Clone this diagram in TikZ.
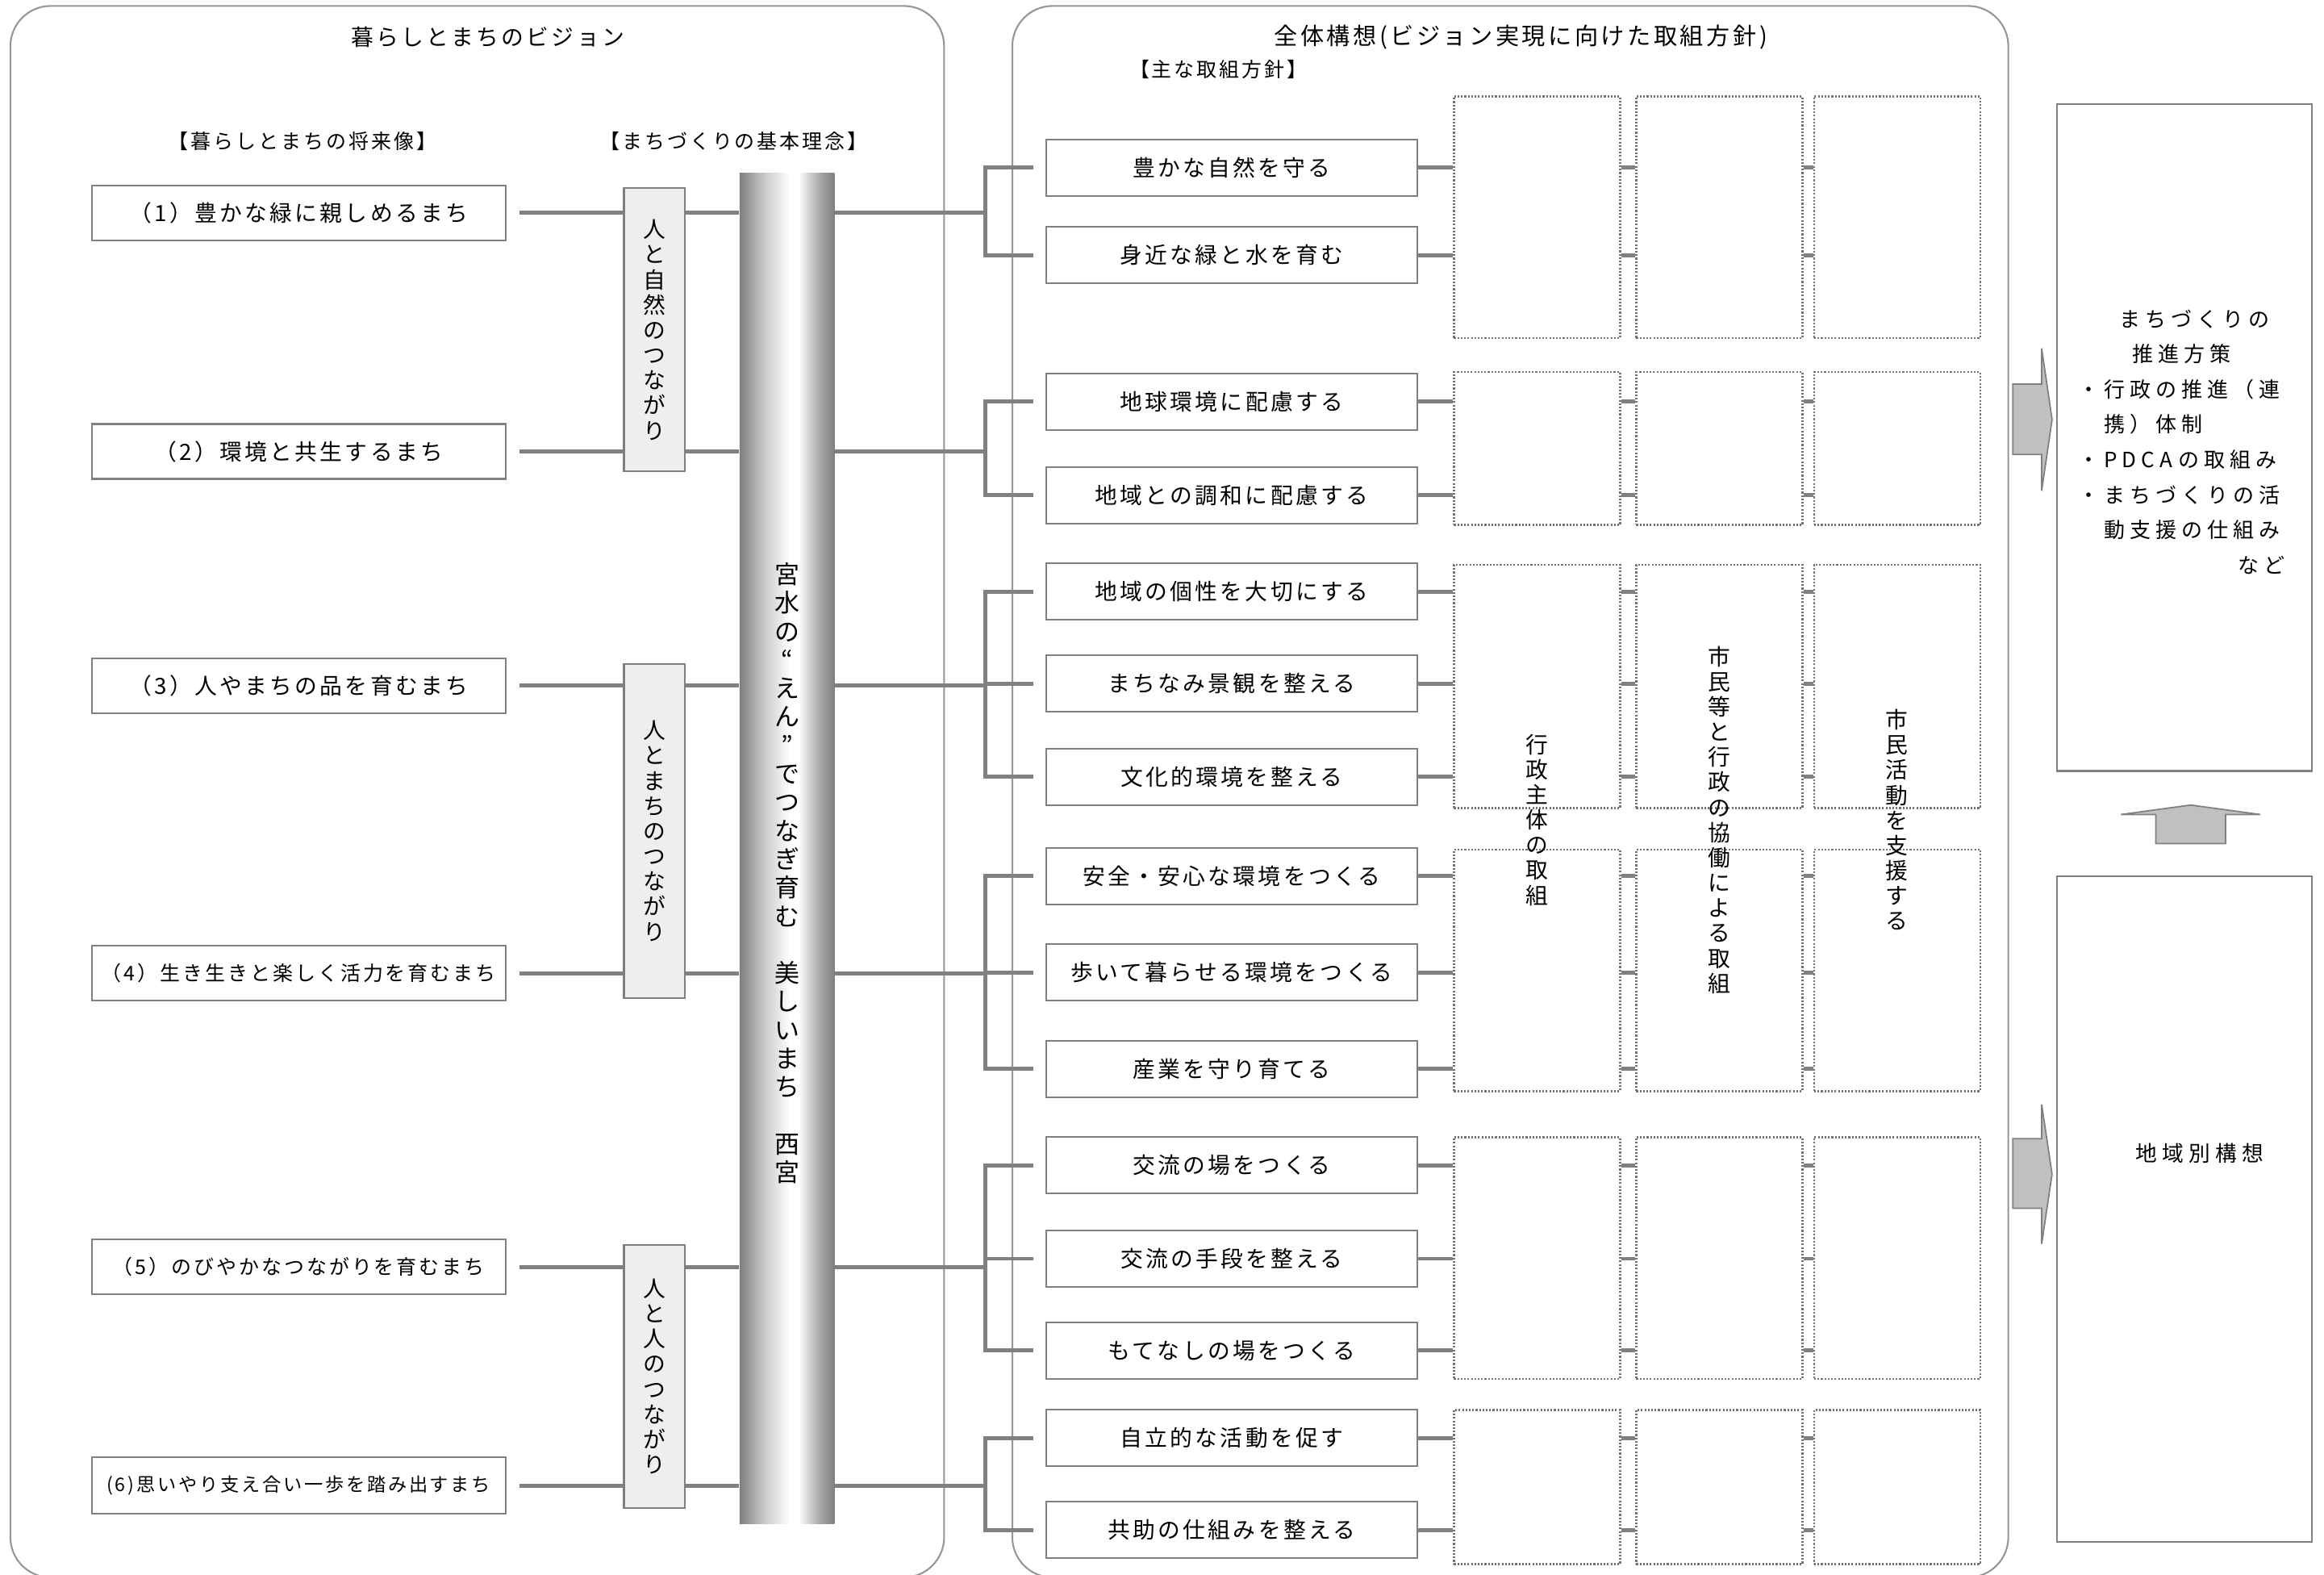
\documentclass[tikz,border=0pt]{standalone}
\usepackage{fontspec}
\setmainfont{Noto Sans CJK JP}
\newfontfamily\jp{Noto Sans CJK JP}
\newfontfamily\jpA[LetterSpace=12]{Noto Sans CJK JP}
\newfontfamily\jpB[LetterSpace=23]{Noto Sans CJK JP}
\usetikzlibrary{fit}
\newcommand\fsz[2]{\fontsize{#1}{#2}\selectfont}
\definecolor{lnc}{RGB}{128,128,128}
\definecolor{bdc}{RGB}{128,128,128}
\definecolor{pnc}{RGB}{150,150,150}
\definecolor{rfc}{RGB}{238,238,238}
\definecolor{arf}{RGB}{192,192,192}
\definecolor{dtc}{RGB}{115,115,115}
\definecolor{pg1}{gray}{0.5}
\definecolor{pg2}{gray}{0.78}
\definecolor{pg3}{gray}{0.66}
\pgfdeclarehorizontalshading{pillarsh}{100bp}{color(0bp)=(pg1); color(25bp)=(pg1); color(37.5bp)=(pg2); color(51.5bp)=(white); color(56bp)=(white); color(67bp)=(pg3); color(75bp)=(pg1); color(100bp)=(pg1)}
\tikzset{
  conn/.style={draw=lnc, line width=1.4pt},
  box/.style={draw=bdc, line width=0.6pt, fill=white},
  dbox/.style={draw=dtc, line width=0.7pt, dash pattern=on 0.6pt off 0.6pt, inner sep=0pt},
  panel/.style={draw=pnc, line width=0.6pt, rounded corners=0.5cm, inner sep=0pt},
  rbox/.style={draw=bdc, fill=rfc, line width=0.6pt, align=center, font=\jp\fsz{7.9pt}{8.87pt}},
  vtxt/.style={inner sep=0pt, align=center, font=\jp\fsz{7.9pt}{8.87pt}},
  barrow/.style={draw=bdc, fill=arf, line width=0.5pt},
  ttl/.style={inner sep=0pt, font=\jpA\fsz{7.9pt}{9pt}},
  sub/.style={inner sep=0pt, font=\jpA\fsz{7.1pt}{9pt}},
  mfont/.style={font=\jpA\fsz{7.9pt}{9pt}}
}
% box by corner coordinates (in picture units): [options]{name}{x1}{y1}{x2}{y2}{text}
\newcommand\bx[7][]{%
  \node[#1, inner sep=0pt, minimum width={(#5-#3)*0.018374cm}, minimum height={(#6-#4)*0.018374cm}] (#2) at ({(#3+#5)/2},{(#4+#6)/2}) {#7};}
\begin{document}
\begin{tikzpicture}[x=0.018374cm, y=-0.018374cm]
\useasboundingbox (0,0) rectangle (1568,1062);

% panels
\node[panel, fit={(7,4) (637,1064)}] (lp) {};
\node[panel, fit={(683,4) (1355,1064)}] (mp) {};

% titles
\node[ttl] (lt) at (329,25) {暮らしとまちのビジョン};
\node[ttl, font=\jpA\fsz{8.3pt}{9pt}] (mt) at (1026,25) {全体構想(ビジョン実現に向けた取組方針)};
\node[sub] (st) at (822,47) {【主な取組方針】};
\node[sub] (h1) at (204,95) {【暮らしとまちの将来像】};
\node[sub] (h2) at (495,95) {【まちづくりの基本理念】};

% vision boxes
\bx[box, mfont]{v1}{62}{125}{341}{162}{（1）豊かな緑に親しめるまち}
\bx[box, mfont]{v2}{62}{286}{341}{323}{（2）環境と共生するまち}
\bx[box, mfont]{v3}{62}{444}{341}{481}{（3）人やまちの品を育むまち}
\bx[box, font=\jpA\fsz{7.1pt}{9pt}]{v4}{62}{638}{341}{675}{（4）生き生きと楽しく活力を育むまち}
\bx[box, font=\jpA\fsz{7.1pt}{9pt}]{v5}{62}{836}{341}{873}{（5）のびやかなつながりを育むまち}
\bx[box, font=\jpA\fsz{6.6pt}{9pt}]{v6}{62}{983}{341}{1021}{(6)思いやり支え合い一歩を踏み出すまち}

% pillar
\bx[shade, shading=pillarsh]{pil}{499}{117}{563}{1028}{}
\coordinate (bx) at (665,0);

% middle boxes
\foreach \i/\ya/\yb/\t in {1/94/132/豊かな自然を守る, 2/153/191/身近な緑と水を育む, 3/252/290/地球環境に配慮する, 4/315/353/地域との調和に配慮する, 5/380/418/地域の個性を大切にする, 6/442/480/まちなみ景観を整える, 7/505/543/文化的環境を整える, 8/572/610/安全・安心な環境をつくる, 9/637/675/歩いて暮らせる環境をつくる, 10/702/740/産業を守り育てる, 11/767/805/交流の場をつくる, 12/830/868/交流の手段を整える, 13/892/930/もてなしの場をつくる, 14/951/989/自立的な活動を促す, 15/1013/1051/共助の仕組みを整える} {
  \bx[box, mfont]{m\i}{706}{\ya}{956}{\yb}{\t}
}

% dotted columns
\foreach \g/\ya/\yb in {1/65/228, 2/251/354, 3/381/545, 4/573/736, 5/767/930, 6/951/1055} {
  \node[dbox, fit={(981,\ya) (1093,\yb)}] (dA\g) {};
  \node[dbox, fit={(1104,\ya) (1216,\yb)}] (dB\g) {};
  \node[dbox, fit={(1224,\ya) (1336,\yb)}] (dC\g) {};
}

% right boxes
\bx[box]{bA}{1388}{70}{1560}{520}{}
\bx[box]{bB}{1388}{591}{1560}{1040}{}

% connectors: vision -> pillar -> bracket
\foreach \i in {1,...,6} {
  \draw[conn] ([xshift=1.65mm]v\i.east) -- (v\i.east -| pil.west);
  \draw[conn] (v\i.east -| pil.east) -- (v\i.east -| bx);
}

% brackets
\draw[conn] ([xshift=-1.5mm]m1.west) -- (m1.west -| bx) -- (m2.west -| bx) -- ([xshift=-1.5mm]m2.west);
\draw[conn] ([xshift=-1.5mm]m3.west) -- (m3.west -| bx) -- (m4.west -| bx) -- ([xshift=-1.5mm]m4.west);
\draw[conn] ([xshift=-1.5mm]m5.west) -- (m5.west -| bx) -- (m7.west -| bx) -- ([xshift=-1.5mm]m7.west);
\draw[conn] (m6.west -| bx) -- ([xshift=-1.5mm]m6.west);
\draw[conn] ([xshift=-1.5mm]m8.west) -- (m8.west -| bx) -- (m10.west -| bx) -- ([xshift=-1.5mm]m10.west);
\draw[conn] (m9.west -| bx) -- ([xshift=-1.5mm]m9.west);
\draw[conn] ([xshift=-1.5mm]m11.west) -- (m11.west -| bx) -- (m13.west -| bx) -- ([xshift=-1.5mm]m13.west);
\draw[conn] (m12.west -| bx) -- ([xshift=-1.5mm]m12.west);
\draw[conn] ([xshift=-1.5mm]m14.west) -- (m14.west -| bx) -- (m15.west -| bx) -- ([xshift=-1.5mm]m15.west);

% middle boxes -> dotted columns
\foreach \m/\g in {1/1,2/1,3/2,4/2,5/3,6/3,7/3,8/4,9/4,10/4,11/5,12/5,13/5,14/6,15/6} {
  \draw[conn] (m\m.east) -- (m\m.east -| dA\g.west);
  \draw[conn] (m\m.east -| dA\g.east) -- (m\m.east -| dB\g.west);
  \draw[conn] (m\m.east -| dB\g.east) -- (m\m.east -| dC\g.west);
}

% principle boxes
\bx[rbox]{r1}{421}{127}{462}{318}{人\\と\\自\\然\\の\\つ\\な\\が\\り}
\bx[rbox]{r2}{421}{448}{462}{673}{人\\と\\ま\\ち\\の\\つ\\な\\が\\り}
\bx[rbox]{r3}{421}{840}{462}{1017}{人\\と\\人\\の\\つ\\な\\が\\り}

% pillar text
\node[inner sep=0pt, align=center, font=\jp\fsz{8.8pt}{10.04pt}] (ptx) at (531,589) {宮\\水\\の\\“\\え\\ん\\”\\で\\つ\\な\\ぎ\\育\\む\\　\\美\\し\\い\\ま\\ち\\　\\西\\宮};

% column texts
\node[vtxt] (ct1) at (1037,553) {行\\政\\主\\体\\の\\取\\組};
\node[vtxt] (ct2) at (1160,553) {市\\民\\等\\と\\行\\政\\の\\協\\働\\に\\よ\\る\\取\\組};
\node[vtxt] (ct3) at (1280,553) {市\\民\\活\\動\\を\\支\\援\\す\\る};

% right box texts
\node[inner sep=0pt, text width=73pt, align=left, font=\jpB\fsz{7.4pt}{12.4pt}] (atx) at (1472,298) {%
\makebox[73pt][c]{　まちづくりの}\\
\makebox[73pt][c]{推進方策}\\
・行政の推進（連\\
　携）体制\\
・PDCA\hspace{2pt}の取組み\\
・まちづくりの活\\
　動支援の仕組み\\
\makebox[73pt][r]{など}};
\node[inner sep=0pt, font=\jpB\fsz{7.6pt}{9pt}] (btx) at (1484,778) {地域別構想};

% block arrows
\draw[barrow] (1358,259) -- (1377.5,259) -- (1377.5,235) -- (1384.5,283) -- (1377.5,331) -- (1377.5,306.5) -- (1358,306.5) -- cycle;
\draw[barrow] (1358,768) -- (1377.5,768) -- (1377.5,745) -- (1384.5,792) -- (1377.5,839) -- (1377.5,815) -- (1358,815) -- cycle;
\draw[barrow] (1454.5,569) -- (1454.5,549.4) -- (1431,549.4) -- (1478,543) -- (1525,549.4) -- (1501.6,549.4) -- (1501.6,569) -- cycle;
\end{tikzpicture}
\end{document}
